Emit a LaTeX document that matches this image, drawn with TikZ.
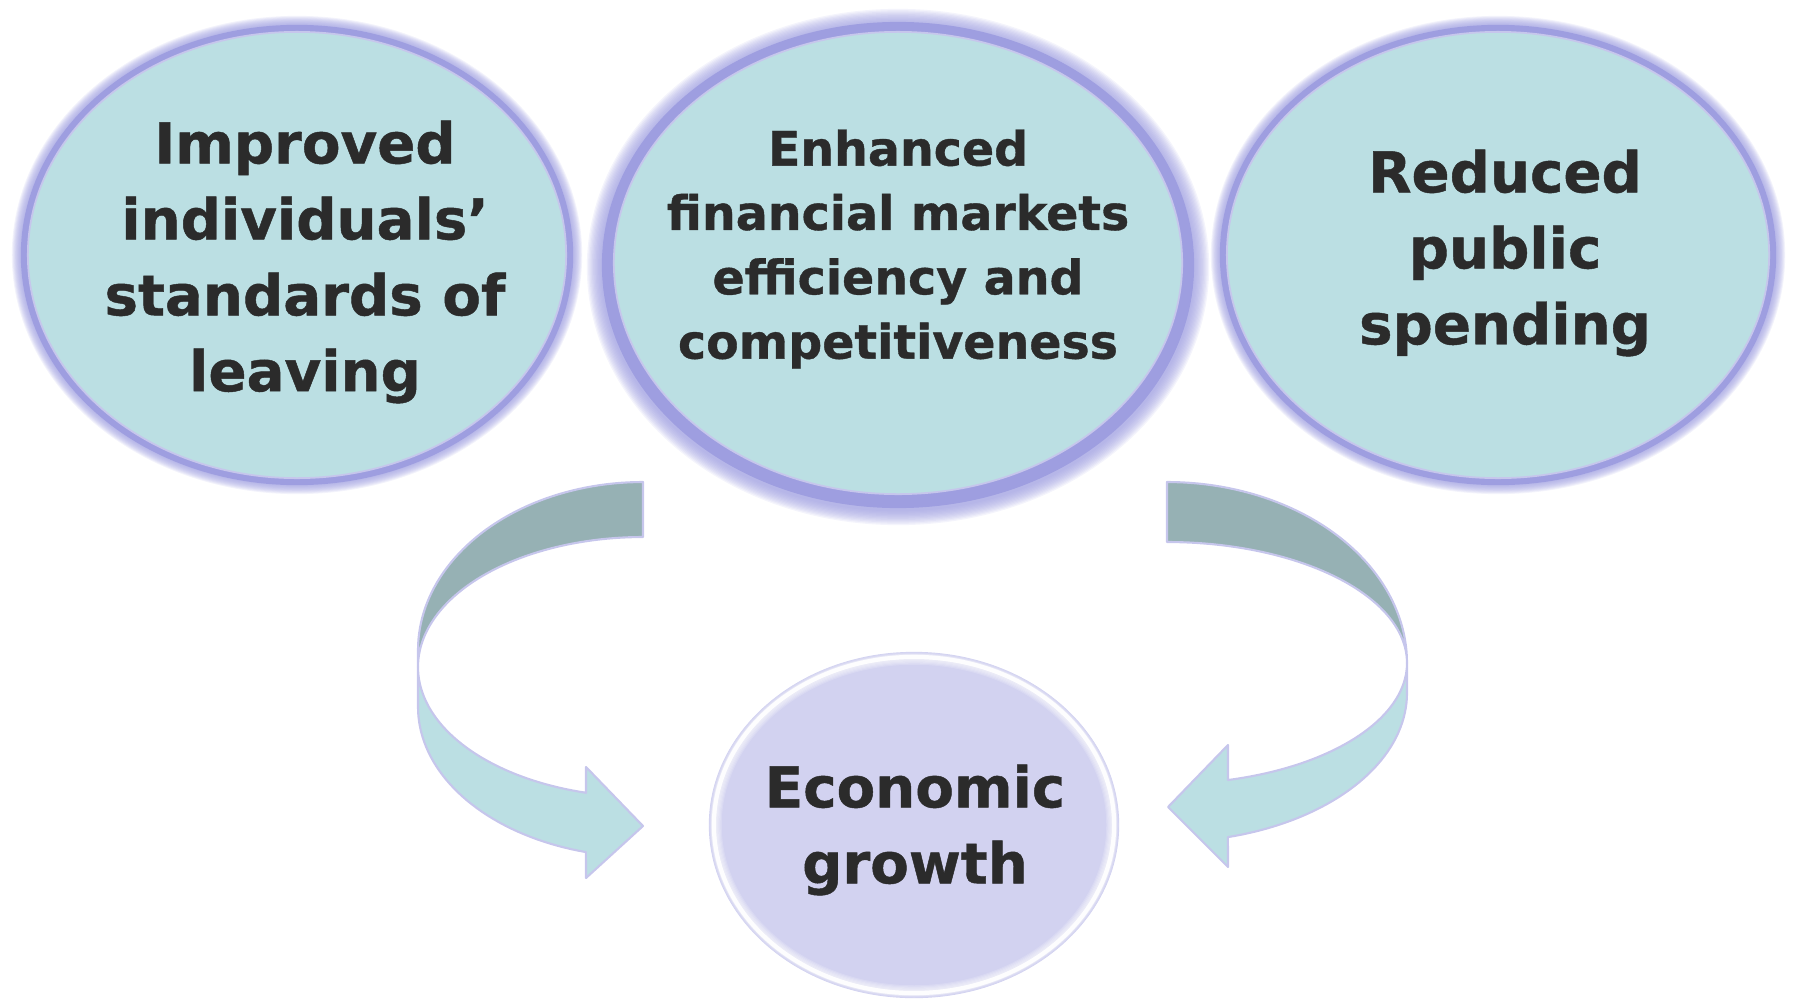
\documentclass[tikz,border=0pt]{standalone}
\usepackage{fontspec}
\setmainfont{DejaVu Sans}[BoldFeatures={FakeBold=0.8}]
\usetikzlibrary{shapes.geometric}
\definecolor{tealfill}{HTML}{BBDFE3}
\definecolor{glowpurple}{HTML}{9E9EE0}
\definecolor{bandback}{HTML}{96B1B4}
\definecolor{bandfront}{HTML}{BBDFE3}
\definecolor{bandline}{HTML}{C6C6EC}
\definecolor{lavfill}{HTML}{D2D2F0}
\definecolor{lavedge}{HTML}{BDBDEA}
\definecolor{txtcol}{HTML}{2B2B2B}
\tikzset{
  topell/.style={ellipse, draw=bandline, line width=0.5pt, fill=tealfill, inner sep=0pt},
  botell/.style={ellipse, draw=lavedge, line width=0.6pt, fill=lavfill, inner sep=0pt},
  glowring/.style={draw=glowpurple},
  lbl/.style={align=center, text=txtcol, inner sep=0pt},
  bigtxt/.style={lbl, font=\bfseries\fontsize{16}{21.6}\selectfont},
  midtxt/.style={lbl, font=\bfseries\fontsize{13.5}{18.3}\selectfont},
  backband/.style={fill=bandback, draw=bandline, line width=0.6pt, line join=round},
  frontband/.style={fill=bandfront, draw=bandline, line width=0.6pt, line join=round}
}
\begin{document}
\begin{tikzpicture}[x=0.01cm,y=-0.01cm]
\useasboundingbox (0,0) rectangle (1794,1000);

% ---- curved arrows ----
% left
\draw[backband] plot[domain=270:180, samples=50] ({643+225*cos(\x)},{650+168*sin(\x)})
  -- plot[domain=180:270, samples=50] ({643+225*cos(\x)},{667+130*sin(\x)}) -- cycle;
\draw[frontband] (418,667) -- (418,707)
  -- plot[domain=180:104.7, samples=40] ({643+225*cos(\x)},{707+150*sin(\x)})
  -- (586,878) -- (643,826) -- (586,767) -- (586,793)
  -- plot[domain=104.7:180, samples=40] ({643+225*cos(\x)},{667+130*sin(\x)}) -- cycle;
% right
\draw[backband] plot[domain=270:360, samples=50] ({1167+240*cos(\x)},{663+181*sin(\x)})
  -- plot[domain=360:270, samples=50] ({1167+240*cos(\x)},{663+121*sin(\x)}) -- cycle;
\draw[frontband] (1407,663) -- (1407,693)
  -- plot[domain=0:75.3, samples=40] ({1167+240*cos(\x)},{693+149*sin(\x)})
  -- (1228,867) -- (1168,807) -- (1228,745) -- (1228,780)
  -- plot[domain=75.3:0, samples=40] ({1167+240*cos(\x)},{663+121*sin(\x)}) -- cycle;

% ---- soft glows (left, right: solid 7px + fade 9px) ----
\draw[glowring, line width=4pt] (297,255) ellipse [x radius=2.69cm, y radius=2.23cm];
\draw[glowring, line width=4pt] (1498,255) ellipse [x radius=2.71cm, y radius=2.23cm];
\foreach \k in {1,...,10}{
  \pgfmathsetmacro{\lw}{2*(7+\k*0.9)*0.2845}
  \draw[glowring, line width=\lw pt, opacity=0.12] (297,255) ellipse [x radius=2.69cm, y radius=2.23cm];
  \draw[glowring, line width=\lw pt, opacity=0.12] (1498,255) ellipse [x radius=2.71cm, y radius=2.23cm];
}
% middle: solid 12px + fade 15px, slightly lowered
\draw[glowring, line width=6.8pt] (898,265) ellipse [x radius=2.84cm, y radius=2.31cm];
\foreach \k in {1,...,12}{
  \pgfmathsetmacro{\lw}{2*(12+\k*1.25)*0.2845}
  \draw[glowring, line width=\lw pt, opacity=0.11] (898,267) ellipse [x radius=2.84cm, y radius=2.31cm];
}

% ---- ellipses ----
\node[topell, minimum width=5.38cm, minimum height=4.46cm] (e1) at (297,255) {};
\node[topell, minimum width=5.68cm, minimum height=4.62cm] (e2) at (898,263) {};
\node[topell, minimum width=5.42cm, minimum height=4.46cm] (e3) at (1498,255) {};
\node[botell, minimum width=4.08cm, minimum height=3.44cm] (e4) at (914,825) {};
% inner soft white rim of the bottom ellipse
\foreach \k in {1,...,6}{
  \pgfmathsetmacro{\lw}{(1.5+\k*2.2)*0.2845}
  \draw[white, line width=\lw pt, opacity=0.16] (e4.center) ellipse [x radius=1.995cm, y radius=1.675cm];
}
\draw[white, line width=1.2pt, opacity=0.9] (e4.center) ellipse [x radius=2.0cm, y radius=1.68cm];

% ---- texts ----
\node[bigtxt] (t1) at (305,262) {Improved\\individuals’\\standards of\\leaving};
\node[midtxt] (t2) at (898,249) {Enhanced\\financial markets\\efficiency and\\competitiveness};
\node[bigtxt] (t3) at (1505,253) {Reduced\\public\\spending};
\node[bigtxt] (t4) at (915,830) {Economic\\growth};
\end{tikzpicture}
\end{document}
